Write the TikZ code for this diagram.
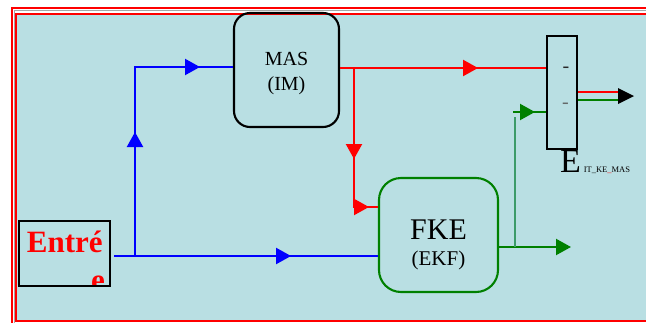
\documentclass[tikz,border=0pt]{standalone}
\usepackage{fontspec}
\setmainfont{Liberation Serif}
\usetikzlibrary{arrows.meta,decorations.markings,calc}
\definecolor{bgblue}{RGB}{185,223,227}
\definecolor{boxgreen}{RGB}{0,128,0}
\definecolor{seagreen}{RGB}{60,155,105}
\definecolor{dashA}{RGB}{40,40,40}
\definecolor{dashB}{RGB}{100,105,105}
\tikzset{
  bigtri/.tip={Triangle[length=15pt,width=16pt]},
  lw/.style={line width=2.1pt},
  plainbox/.style={draw, line width=2.1pt, inner sep=0pt},
  rbox/.style={draw, line width=2.1pt, rounded corners=#1, inner sep=0pt},
  txt/.style={inner sep=0pt, outer sep=0pt},
  onemark/.style={postaction={decorate},decoration={markings,mark=at position #1 with {\arrow{bigtri}}}},
  twomark/.style n args={2}{postaction={decorate},decoration={markings,
      mark=at position #1 with {\arrow{bigtri}},
      mark=at position #2 with {\arrow{bigtri}}}},
}
\begin{document}
\begin{tikzpicture}[x=1pt,y=-1pt]
\useasboundingbox (0,0) rectangle (646,322);
\fill[white] (0,0) rectangle (646,322);
% frame
\draw[red, line width=2pt] (11.5,7.5) rectangle (700,400);
\draw[gray!70, line width=0.6pt] (13.8,10.5) rectangle (690,390);
\draw[red, line width=2pt, fill=bgblue] (16,13.5) rectangle (680,320.5);

% boxes
\node[rbox=16pt, minimum width=105pt, minimum height=114pt] (mas) at (286.5,70) {};
\node[txt, anchor=base, font=\fontsize{20}{24}\selectfont] (masT) at (286.5,65) {MAS};
\node[txt, anchor=base, font=\fontsize{20}{24}\selectfont] (masS) at (286.5,90) {(IM)};

\node[rbox=22pt, draw=boxgreen, minimum width=119pt, minimum height=114pt] (fke) at (438.5,235) {};
\node[txt, anchor=base, font=\fontsize{30}{34}\selectfont] (fkeT) at (438.5,239) {FKE};
\node[txt, anchor=base, font=\fontsize{21}{24}\selectfont] (fkeS) at (438.5,265) {(EKF)};

\begin{scope}
\clip (19,221) rectangle (110,285);
\node[txt, anchor=base west, text=red, font=\fontsize{31}{35}\selectfont\bfseries] (entT) at (27,252) {Entré};
\node[txt, anchor=base west, text=red, font=\fontsize{31}{35}\selectfont\bfseries] (entE) at (91,290) {e};
\end{scope}
\node[plainbox, minimum width=91pt, minimum height=65pt] (entree) at (64.5,253.5) {};

\node[plainbox, minimum width=30pt, minimum height=113pt] (ebox) at (562,92.5) {};
\node[txt, text=dashA, font=\fontsize{20}{20}\selectfont] (dash1) at (566,70) {-};
\node[txt, text=dashB, font=\fontsize{20}{20}\selectfont] (dash2) at (565.5,106) {-};

\node[txt, anchor=base west] (elab) at (560,172) {\fontsize{34}{34}\selectfont E\kern3pt\fontsize{8.5}{9}\selectfont IT\_KE\textcolor{red}{\_}MAS};

% junction coordinates
\coordinate (bj) at (135,256);
\coordinate (btop) at (135,67);
\coordinate (rj) at (354,68);
\coordinate (rk) at (354,207);
\coordinate (gj) at (515,247);
\coordinate (gtop) at (515,117);
\coordinate (gin) at (513,112);
\coordinate (gout) at (571,247);
\coordinate (ro) at (622,92);
\coordinate (go) at (622,100);
\coordinate (otip) at (634,96);

% blue
\draw[blue, lw, onemark=177pt] ([xshift=3pt]entree.east |- bj) -- (fke.west |- bj);
\draw[blue, lw, twomark={124pt}{254pt}] (bj) -- (btop) -- (mas.west |- btop);

% red
\draw[red, lw, onemark=138pt] (mas.east |- rj) -- (ebox.west |- rj);
\draw[red, lw, twomark={91pt}{154pt}] (rj) -- (rk) -- (fke.west |- rk);

% green
\draw[boxgreen, lw, -{bigtri}] (fke.east |- gj) -- (gout);
\draw[seagreen, lw] (gj) -- (gtop);
\draw[boxgreen, lw, onemark=22pt] (gin) -- (ebox.west |- gin);

% outputs
\draw[red, lw] (ebox.east |- ro) -- (ro);
\draw[boxgreen, lw] (ebox.east |- go) -- (go);
\fill[black] (otip) -- ++(-16,-8) -- ++(0,16) -- cycle;
\end{tikzpicture}
\end{document}
